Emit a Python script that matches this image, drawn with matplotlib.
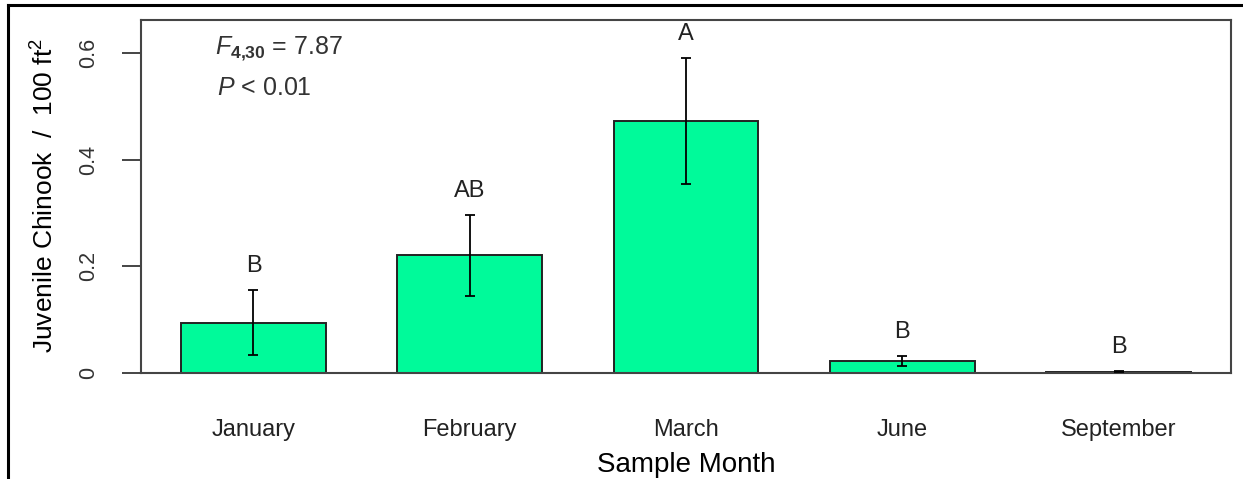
import matplotlib
matplotlib.use("Agg")
import matplotlib.pyplot as plt
from matplotlib.lines import Line2D

plt.rcParams['font.family'] = ['Liberation Sans', 'DejaVu Sans']
plt.rcParams['mathtext.fontset'] = 'custom'
plt.rcParams['mathtext.rm'] = 'Liberation Sans'
plt.rcParams['mathtext.it'] = 'Liberation Sans:italic'
plt.rcParams['mathtext.bf'] = 'Liberation Sans:bold'

months = ["January", "February", "March", "June", "September"]
means = [0.094, 0.221, 0.472, 0.023, 0.002]
errors = [0.061, 0.076, 0.118, 0.009, 0.001]
letters = ["B", "AB", "A", "B", "B"]
yticks = [0, 0.2, 0.4, 0.6]
ytick_labels = ["0", "0.2", "0.4", "0.6"]

W, H = 1243, 479
fig = plt.figure(figsize=(W / 100, H / 100), dpi=100)
ax = fig.add_axes([141 / W, (H - 373) / H, (1231 - 141) / W, (373 - 20) / H])

axis_col = "#444444"
x = list(range(len(months)))
ax.bar(x, means, width=0.67, color="#00FA9A", edgecolor="#222222", linewidth=1.4, zorder=2)
ax.errorbar(x, means, yerr=errors, fmt="none", ecolor="black", elinewidth=1.3,
            capsize=3.5, capthick=1.3, zorder=3)
for xi, m, e, lab in zip(x, means, errors, letters):
    ax.text(xi, m + e + 0.045, lab, ha="center", va="center", fontsize=17, color="#222222")

ax.set_xlim(-0.52, 4.52)
ax.set_ylim(0, 0.662)
ax.set_yticks(yticks)
ax.set_yticklabels(ytick_labels, rotation=90, va="center")
ax.set_xticks(x)
ax.set_xticklabels(months)
ax.tick_params(axis="y", length=14, width=1.4, color=axis_col, pad=16,
               labelsize=15.5, labelcolor="#333333")
ax.tick_params(axis="x", length=0, pad=33, labelsize=17, labelcolor="#222222")
for s in ax.spines.values():
    s.set_color(axis_col)
    s.set_linewidth(1.5)


def px(xp, yp):
    return xp / W, (H - yp) / H


fig.text(*px(215, 49), r"$\mathit{F}_{\mathbf{4{,}30}}$ = 7.87", fontsize=18,
         color="#333333", ha="left", va="center")
fig.text(*px(217, 88), r"$\mathit{P}$ < 0.01", fontsize=18,
         color="#333333", ha="left", va="center")
fig.text(*px(45, 196), r"Juvenile Chinook  /  100 ft$^2$", rotation=90,
         fontsize=19, color="black", ha="center", va="center")
fig.text(*px(686, 465), "Sample Month", fontsize=20, color="black",
         ha="center", va="center")

# outer frame (top and left lines)
fig.add_artist(Line2D([8 / W, 1.0], [(H - 5) / H, (H - 5) / H], color="black", linewidth=2.2,
                      transform=fig.transFigure))
fig.add_artist(Line2D([8 / W, 8 / W], [(H - 5) / H, 0], color="black", linewidth=2.2,
                      transform=fig.transFigure))

fig.savefig("out.png", dpi=100)
